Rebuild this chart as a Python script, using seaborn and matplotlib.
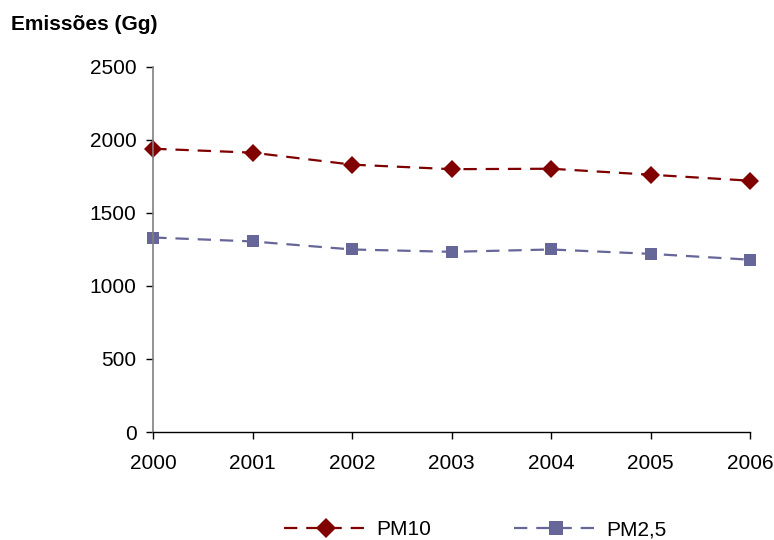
import matplotlib
matplotlib.use("Agg")
import matplotlib.pyplot as plt
import seaborn as sns
import pandas as pd
from matplotlib.lines import Line2D

years = [2000, 2001, 2002, 2003, 2004, 2005, 2006]
pm10 = [1940, 1913, 1831, 1800, 1803, 1762, 1721]
pm25 = [1332, 1305, 1250, 1234, 1250, 1220, 1180]
series_names = ["PM10", "PM2,5"]
y_ticks = [0, 500, 1000, 1500, 2000, 2500]

df = pd.DataFrame({
    "Ano": years * 2,
    "Emissões": pm10 + pm25,
    "Poluente": [series_names[0]] * len(years) + [series_names[1]] * len(years),
})

sns.set_theme(style="white")
plt.rcParams["font.family"] = ["Liberation Sans", "DejaVu Sans"]
plt.rcParams["text.color"] = "black"

fig = plt.figure(figsize=(7.74, 5.4), dpi=100)
ax = fig.add_axes([0.198, 0.2, 0.771, 0.676])

palette = {"PM10": "#800000", "PM2,5": "#666699"}
markers = {"PM10": "D", "PM2,5": "s"}
dashes = {"PM10": (6, 4), "PM2,5": (6, 4)}

sns.lineplot(data=df, x="Ano", y="Emissões", hue="Poluente", style="Poluente",
             palette=palette, markers=markers, dashes=dashes, ax=ax,
             linewidth=1.6, markersize=9, markeredgewidth=0, legend=False)
for ln in ax.lines:
    ln.set_clip_on(False)

ax.set_xlim(years[0], years[-1])
ax.set_ylim(0, 2500)
ax.set_xticks(years)
ax.set_xticklabels([str(y) for y in years])
ax.set_yticks(y_ticks)
ax.set_xlabel("")
ax.set_ylabel("")
for s in ["top", "right"]:
    ax.spines[s].set_visible(False)
ax.spines["left"].set_color("#808080")
ax.spines["left"].set_linewidth(1.2)
ax.spines["bottom"].set_color("black")
ax.spines["bottom"].set_linewidth(1.0)
ax.tick_params(axis="both", which="major", labelsize=15, colors="black",
               direction="out", length=5, width=1, left=True, bottom=True)
ax.tick_params(axis="x", pad=11)
ax.tick_params(axis="y", pad=7)

fig.text(0.014, 0.955, "Emissões (Gg)", fontsize=15, fontweight="bold",
         ha="left", va="center", color="black")

handles = [
    Line2D([], [], color=palette[n], marker=markers[n], linestyle=(0, dashes[n]),
           linewidth=1.6, markersize=10, markeredgewidth=0)
    for n in series_names
]
fig.legend(handles, series_names, loc="center", bbox_to_anchor=(0.614, 0.019),
           ncol=2, frameon=False, fontsize=15, handlelength=4.0,
           columnspacing=4.0, handletextpad=0.4)

fig.savefig("out.png", dpi=100)
